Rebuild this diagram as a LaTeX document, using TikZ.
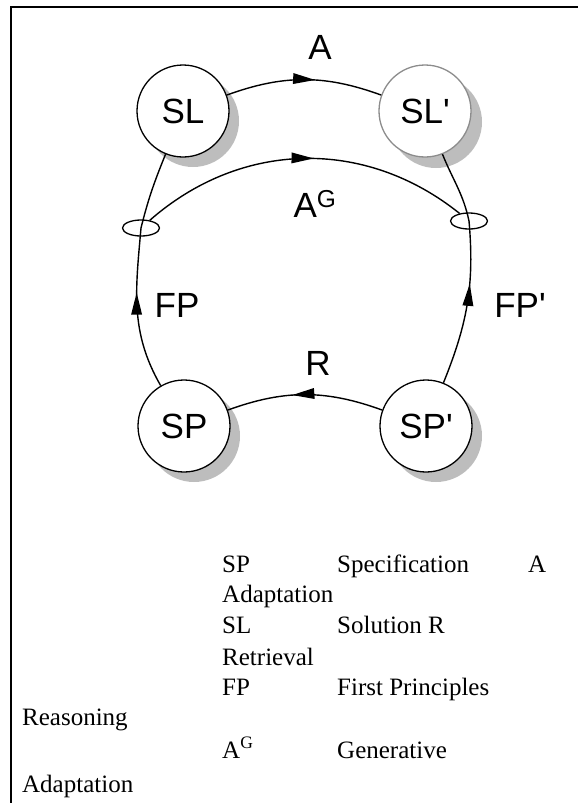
\documentclass[tikz,border=0pt]{standalone}
\usepackage{fontspec}
\setmainfont{Liberation Serif}
\setsansfont{Liberation Sans}
\usetikzlibrary{arrows.meta,decorations.markings,shapes.geometric}
\begin{document}
\begin{tikzpicture}[x=1pt,y=1pt,
  state/.style={circle, draw, line width=1.3pt, fill=white, minimum size=92pt, inner sep=0pt, font=\sffamily\fontsize{35}{35}\selectfont},
  shadowdisc/.style={circle, fill=black!26, minimum size=92pt, inner sep=0pt},
  junction/.style={ellipse, draw, line width=1.3pt, minimum width=37pt, minimum height=16pt, inner sep=0pt},
  conn/.style={line width=1.4pt},
  midarrow/.style={postaction={decorate}, decoration={markings, mark=at position #1 with {\fill (-22pt,5.5pt) -- (0pt,0pt) -- (-22pt,-5.5pt) -- cycle;}}},
  lbl/.style={inner sep=0pt, font=\sffamily\fontsize{35}{35}\selectfont},
  legend/.style={anchor=base west, inner sep=0pt, font=\fontsize{25}{25}\selectfont},
  frame/.style={line width=2.2pt}]
\useasboundingbox (0,0) rectangle (578,-803);
% frame
\coordinate (fa) at (578,-7);
\coordinate (fb) at (11,-7);
\coordinate (fc) at (11,-803);
\draw[frame] (fa) -- (fb) -- (fc);
% shadows
\node[shadowdisc] (shSL) at (193,-121) {};
\node[shadowdisc] (shSLp) at (436,-122) {};
\node[shadowdisc] (shSP) at (194,-436) {};
\node[shadowdisc] (shSPp) at (436,-436) {};
% states
\node[state] (SL) at (183,-111) {SL};
\node[state, draw=black!45] (SLp) at (425,-111) {SL\textquotesingle};
\node[state] (SP) at (184,-426) {SP};
\node[state] (SPp) at (426,-426) {SP\textquotesingle};
% junctions
\node[junction] (e1) at (141,-228) {};
\node[junction] (e2) at (469,-221) {};
% connectors
\draw[conn, midarrow=0.57] (SL) to[bend left=20] (SLp);
\draw[conn, midarrow=0.53] (e1) to[bend left=40] (e2);
\draw[conn, midarrow=0.58] (SPp) to[bend right=20] (SP);
\draw[conn, midarrow=0.6] (SP) to[out=120, in=-95] (e1.center);
\draw[conn] (e1.center) to[out=76, in=248] (SL);
\draw[conn, midarrow=0.62] (SPp) to[out=68, in=-85] (e2.center);
\draw[conn] (e2.center) to[out=102, in=-68] (SLp);
% labels
\node[lbl] (lA) at (320,-47) {A};
\node[lbl, anchor=base] (lAG) at (315,-217) {A\textsuperscript{G}};
\node[lbl] (lFP) at (177,-305) {FP};
\node[lbl] (lFPp) at (520,-305) {FP\textquotesingle};
\node[lbl] (lR) at (318,-363) {R};
% legend
\node[legend] (g1) at (222,-572) {SP};
\node[legend] (g2) at (337,-572) {Specification};
\node[legend] (g3) at (528,-572) {A};
\node[legend] (g4) at (222,-602) {Adaptation};
\node[legend] (g5) at (222,-633) {SL};
\node[legend] (g6) at (337,-633) {Solution R};
\node[legend] (g7) at (222,-665) {Retrieval};
\node[legend] (g8) at (222,-695) {FP};
\node[legend] (g9) at (337,-695) {First Principles};
\node[legend] (g10) at (22,-725) {Reasoning};
\node[legend] (g11) at (222,-758) {A\textsuperscript{G}};
\node[legend] (g12) at (337,-758) {Generative};
\node[legend] (g13) at (22,-792) {Adaptation};
\end{tikzpicture}
\end{document}
